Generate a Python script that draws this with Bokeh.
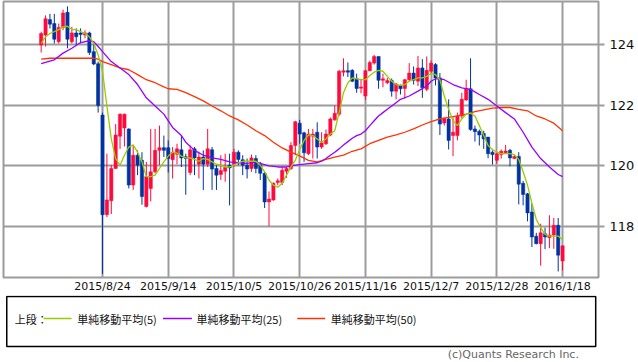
from bokeh.plotting import figure
from bokeh.models import Range1d, FixedTicker, ColumnDataSource
from bokeh.layouts import column
from bokeh.embed import file_html
from bokeh.resources import INLINE
from bokeh.core.properties import value

# ---- data (USD/JPY daily, 2015/8/4 - 2016/1/18, trading-day index) ----
opens = [124.00, 124.33, 124.84, 124.71, 124.11, 124.58, 125.08, 124.11, 124.40, 124.40,
         124.33, 124.40, 123.78, 123.38, 121.68, 118.38, 118.84, 119.91, 120.98, 121.25,
         121.22, 119.36, 120.35, 120.18, 118.65, 119.25, 119.80, 120.51, 120.60, 120.60,
         120.20, 120.38, 120.53, 120.30, 119.78, 120.56, 120.05, 120.29, 120.05, 120.53,
         119.91, 119.71, 119.82, 120.02, 120.05, 120.45, 120.20, 120.02, 119.91, 120.24,
         120.04, 119.75, 118.80, 118.87, 119.45, 119.45, 119.82, 119.91, 120.67, 121.41,
         121.09, 120.40, 120.98, 121.11, 120.62, 120.73, 121.02, 121.52, 121.71, 123.10,
         123.15, 123.16, 122.88, 122.57, 122.31, 123.15, 123.40, 123.62, 122.83, 122.75,
         122.82, 122.47, 122.66, 122.56, 122.85, 123.07, 122.80, 123.24, 122.53, 123.13,
         123.35, 122.91, 121.42, 121.55, 121.00, 121.00, 121.65, 122.18, 122.55, 121.22,
         121.14, 121.07, 120.95, 120.45, 120.18, 120.37, 120.43, 120.51, 120.24, 120.31,
         119.42, 119.07, 118.47, 117.67, 117.42, 117.75, 117.62, 117.71, 118.03, 116.85]
highs = [124.44, 124.98, 125.03, 125.03, 124.71, 125.17, 125.28, 124.60, 124.55, 124.55,
         124.49, 124.44, 124.08, 123.45, 121.76, 120.40, 120.02, 121.38, 121.73, 121.73,
         121.24, 120.67, 120.51, 120.45, 120.13, 121.22, 121.22, 121.33, 121.00, 120.84,
         120.62, 120.73, 121.00, 120.40, 120.67, 120.62, 120.47, 120.51, 121.22, 120.62,
         120.02, 120.35, 120.40, 120.40, 120.56, 120.51, 120.35, 120.24, 120.37, 120.35,
         120.13, 119.80, 119.15, 119.45, 119.58, 119.96, 119.96, 120.78, 121.49, 121.52,
         121.13, 121.22, 121.22, 121.44, 121.11, 121.20, 121.60, 122.00, 123.18, 123.56,
         123.42, 123.20, 123.05, 122.88, 123.18, 123.48, 123.67, 123.62, 123.05, 122.91,
         122.89, 122.75, 122.69, 122.88, 123.40, 123.29, 123.64, 123.53, 123.62, 123.49,
         123.40, 123.07, 121.60, 122.20, 121.60, 121.76, 122.42, 122.85, 123.56, 121.33,
         121.20, 121.16, 120.95, 120.51, 120.45, 120.54, 120.69, 120.56, 120.35, 120.45,
         119.50, 119.10, 118.75, 117.78, 118.08, 117.95, 118.36, 118.27, 118.27, 117.35]
lows = [123.75, 123.95, 124.55, 124.05, 124.05, 124.49, 123.89, 124.05, 124.00, 124.05,
        124.22, 123.67, 123.33, 121.76, 116.42, 118.30, 118.40, 119.90, 120.56, 120.64,
        119.25, 119.20, 119.69, 118.71, 118.62, 118.82, 119.75, 120.02, 120.29, 119.78,
        119.58, 120.05, 119.96, 119.04, 119.69, 119.69, 119.58, 119.20, 119.96, 119.20,
        119.20, 119.53, 119.47, 118.69, 119.96, 120.02, 119.69, 119.58, 119.80, 119.75,
        119.53, 118.60, 118.00, 118.84, 119.36, 119.36, 119.60, 119.86, 120.35, 120.73,
        120.13, 120.35, 120.24, 120.24, 120.56, 120.69, 120.98, 121.49, 121.65, 122.96,
        122.94, 122.77, 122.42, 122.40, 122.18, 123.13, 123.35, 122.55, 122.60, 122.70,
        122.29, 122.20, 122.36, 122.22, 122.80, 122.69, 122.64, 122.25, 122.47, 123.07,
        122.66, 121.02, 121.33, 120.54, 120.32, 120.84, 121.57, 122.15, 121.16, 120.80,
        120.67, 120.56, 120.25, 120.04, 120.07, 120.24, 120.42, 119.98, 120.22, 118.72,
        118.69, 118.16, 117.31, 117.40, 116.69, 117.24, 117.27, 117.25, 116.50, 116.53]
closes = [124.38, 124.87, 124.69, 124.19, 124.58, 125.06, 124.19, 124.40, 124.27, 124.35,
          124.40, 123.75, 123.37, 122.00, 118.38, 118.87, 119.91, 121.02, 121.71, 121.71,
          119.36, 120.35, 120.02, 118.98, 119.64, 119.80, 120.51, 120.60, 120.51, 120.24,
          120.45, 120.56, 120.26, 120.24, 120.53, 120.26, 120.29, 120.05, 120.56, 119.89,
          119.69, 119.84, 119.95, 119.93, 120.45, 120.21, 120.02, 119.89, 120.26, 119.91,
          119.75, 118.80, 118.90, 119.42, 119.50, 119.85, 119.91, 120.67, 121.46, 121.05,
          120.43, 121.05, 121.05, 120.62, 120.76, 121.05, 121.55, 121.74, 123.13, 123.15,
          123.10, 122.80, 122.56, 122.61, 123.15, 123.42, 123.62, 122.83, 122.88, 122.82,
          122.47, 122.71, 122.55, 122.85, 123.07, 122.83, 123.24, 122.58, 123.16, 123.40,
          122.91, 121.38, 121.57, 120.84, 121.11, 121.65, 122.20, 122.55, 121.20, 121.13,
          121.02, 120.89, 120.40, 120.37, 120.40, 120.48, 120.49, 120.26, 120.31, 119.39,
          119.05, 118.44, 117.64, 117.42, 117.78, 117.64, 117.71, 118.03, 117.04, 117.35]

ma5 = [124.05, 124.27, 124.38, 124.44, 124.51, 124.60, 124.62, 124.51, 124.51, 124.44,
       124.38, 124.27, 124.05, 123.67, 123.13, 121.98, 120.89, 120.24, 120.02, 120.35,
       120.62, 120.69, 120.45, 120.13, 119.64, 119.64, 119.69, 119.91, 120.13, 120.32,
       120.45, 120.42, 120.32, 120.26, 120.26, 120.21, 120.15, 120.24, 120.21, 120.13,
       120.05, 120.02, 119.96, 119.96, 120.02, 120.10, 120.15, 120.15, 120.15, 120.15,
       120.02, 119.80, 119.53, 119.36, 119.29, 119.42, 119.69, 119.96, 120.18, 120.53,
       120.84, 121.02, 121.00, 120.89, 120.78, 120.89, 121.05, 121.16, 121.76, 122.42,
       122.75, 122.91, 122.88, 122.85, 122.85, 122.99, 123.10, 123.16, 123.13, 122.96,
       122.80, 122.69, 122.66, 122.69, 122.80, 122.85, 122.91, 122.91, 122.96, 123.06,
       123.02, 122.85, 122.31, 121.87, 121.49, 121.33, 121.55, 121.71, 121.74, 121.65,
       121.33, 121.00, 120.67, 120.54, 120.45, 120.40, 120.40, 120.40, 120.37, 120.21,
       119.80, 119.36, 118.76, 118.22, 117.95, 117.73, 117.67, 117.67, 117.67, 117.56]

ma25_idx = [0, 3, 5, 7, 9, 11, 12, 13, 14, 16, 18, 20, 22, 24, 26, 28, 30, 32, 33, 35,
            37, 39, 41, 43, 45, 47, 49, 52, 54, 56, 58, 61, 63, 64, 65, 66, 67, 68, 69, 70,
            71, 72, 73, 74, 75, 76, 77, 78, 79, 80, 81, 82, 84, 86, 88, 89, 90, 91, 92, 94,
            96, 98, 100, 102, 104, 106, 108, 110, 112, 114, 116, 118, 119]
ma25_val = [123.38, 123.51, 123.73, 123.89, 124.08, 124.14, 124.11, 123.95, 123.78, 123.45,
            123.24, 123.02, 122.69, 122.25, 121.98, 121.71, 121.27, 121.00, 120.78, 120.51,
            120.35, 120.26, 120.21, 120.13, 120.10, 120.08, 120.12, 120.00, 119.96, 119.96,
            120.02, 120.07, 120.10, 120.15, 120.24, 120.35, 120.45, 120.56, 120.69, 120.80,
            120.91, 121.00, 121.05, 121.16, 121.33, 121.49, 121.65, 121.76, 121.87, 121.98,
            122.09, 122.20, 122.31, 122.47, 122.64, 122.80, 122.88, 122.88, 122.85, 122.69,
            122.58, 122.53, 122.36, 122.20, 121.98, 121.76, 121.55, 121.11, 120.62, 120.24,
            119.96, 119.71, 119.64]

ma50_idx = [0, 2, 5, 10, 12, 13, 14, 16, 18, 20, 22, 24, 26, 28, 29, 31, 33, 35, 37, 39,
            41, 43, 45, 47, 49, 51, 53, 55, 57, 59, 61, 63, 65, 67, 69, 71, 73, 75, 77, 79,
            81, 83, 85, 87, 89, 91, 93, 95, 97, 99, 101, 103, 105, 107, 109, 111, 113, 115,
            117, 119]
ma50_val = [123.53, 123.56, 123.56, 123.56, 123.56, 123.53, 123.45, 123.35, 123.24, 123.18,
            123.02, 122.85, 122.75, 122.61, 122.55, 122.53, 122.42, 122.29, 122.15, 121.98,
            121.82, 121.65, 121.52, 121.35, 121.16, 121.00, 120.78, 120.59, 120.45, 120.33,
            120.18, 120.13, 120.21, 120.29, 120.35, 120.48, 120.56, 120.73, 120.84, 120.95,
            121.02, 121.11, 121.22, 121.35, 121.46, 121.55, 121.60, 121.65, 121.71, 121.79,
            121.85, 121.91, 121.93, 121.93, 121.87, 121.82, 121.65, 121.55, 121.41, 121.16]

tick_idx = [14, 29, 44, 59, 74, 89, 104, 119]
tick_labels = ["2015/8/24", "2015/9/14", "2015/10/5", "2015/10/26", "2015/11/16",
               "2015/12/7", "2015/12/28", "2016/1/18"]
y_ticks = [118, 120, 122, 124]

legend_names = ["単純移動平均(5)", "単純移動平均(25)", "単純移動平均(50)"]

UP = "#ff0a3c"
DOWN = "#0033a0"
C5, C25, C50 = "#99cc00", "#9900ff", "#ff3300"
GRID = "#9c9c9c"

# ---- main chart ----
idx = list(range(len(closes)))
colors = [UP if c >= o else DOWN for o, c in zip(opens, closes)]
tops = [max(o, c) for o, c in zip(opens, closes)]
bots = [min(o, c) for o, c in zip(opens, closes)]
bots = [b if t - b > 0.03 else t - 0.03 for t, b in zip(tops, bots)]
src = ColumnDataSource(dict(x=idx, h=highs, l=lows, t=tops, b=bots, c=colors))

p = figure(width=638, height=295, x_range=Range1d(-8.6, 127.2), y_range=Range1d(116.30, 125.44),
           output_backend="svg", toolbar_location=None, y_axis_location="right",
           min_border_left=3, min_border_right=40, min_border_top=1, min_border_bottom=15)
p.background_fill_color = "white"
p.border_fill_color = "white"
p.outline_line_color = GRID
p.outline_line_width = 2

p.xaxis.ticker = FixedTicker(ticks=tick_idx)
p.xaxis.major_label_overrides = {t: lab for t, lab in zip(tick_idx, tick_labels)}
p.yaxis.ticker = FixedTicker(ticks=y_ticks)
p.xgrid.ticker = FixedTicker(ticks=tick_idx)
p.ygrid.ticker = FixedTicker(ticks=y_ticks)
for g in (p.xgrid, p.ygrid):
    g.grid_line_color = GRID
    g.grid_line_width = 2

p.xaxis.axis_line_color = None
p.xaxis.major_tick_line_color = None
p.xaxis.minor_tick_line_color = None
p.xaxis.major_tick_out = 0
p.xaxis.major_tick_in = 0
p.xaxis.minor_tick_out = 0
p.xaxis.minor_tick_in = 0
p.xaxis.major_label_standoff = 2
p.xaxis.major_label_text_font = "DejaVu Sans"
p.xaxis.major_label_text_font_size = "11px"
p.xaxis.major_label_text_color = "#111111"

p.yaxis.axis_line_color = None
p.yaxis.major_tick_line_color = GRID
p.yaxis.major_tick_line_width = 2
p.yaxis.major_tick_out = 6
p.yaxis.major_tick_in = 0
p.yaxis.minor_tick_line_color = None
p.yaxis.minor_tick_out = 0
p.yaxis.minor_tick_in = 0
p.yaxis.major_label_standoff = 5
p.yaxis.major_label_text_font = "DejaVu Sans"
p.yaxis.major_label_text_font_size = "13px"
p.yaxis.major_label_text_color = "#111111"

p.segment(x0="x", y0="h", x1="x", y1="l", color="c", line_width=1, source=src)
p.vbar(x="x", width=0.75, top="t", bottom="b", fill_color="c", line_color="c", line_width=0.5, source=src)

p.line(ma50_idx, ma50_val, line_color=C50, line_width=1.3)
p.line(ma25_idx, ma25_val, line_color=C25, line_width=1.3)
p.line(idx, ma5, line_color=C5, line_width=1.3)

# ---- legend strip ----
lf = figure(width=638, height=67, x_range=Range1d(0, 638), y_range=Range1d(67, 0),
            output_backend="svg", toolbar_location=None, min_border=0)
lf.axis.visible = False
lf.grid.visible = False
lf.outline_line_color = None
lf.background_fill_color = "white"
lf.border_fill_color = "white"

lf.quad(left=[3.5], right=[635], top=[1], bottom=[51], fill_color=None, line_color="black", line_width=1.5)
lf.text(x=[12], y=[23], text=["上段："], text_font=value("Noto Sans CJK JP"), text_font_size="11px",
        text_baseline="middle", text_color="#111111")
lf.segment(x0=[43, 171, 315], y0=[23, 23, 23], x1=[73, 202, 345], y1=[23, 23, 23],
           line_color=[C5, C25, C50], line_width=1.5)
lf.text(x=[79, 207, 351], y=[23, 23, 23], text=legend_names, text_font=value("Noto Sans CJK JP"),
        text_font_size="11px", text_baseline="middle", text_color="#111111")
lf.text(x=[617], y=[59], text=["(c)Quants Research Inc."], text_font=value("DejaVu Sans"),
        text_font_size="11px", text_baseline="middle", text_align="right", text_color="#666666")

layout = column(p, lf, spacing=0)
html = file_html(layout, INLINE)
html = html.replace("<head>", "<head><style>html,body{margin:0;padding:0;}</style>", 1)
open("out.html", "w").write(html)
